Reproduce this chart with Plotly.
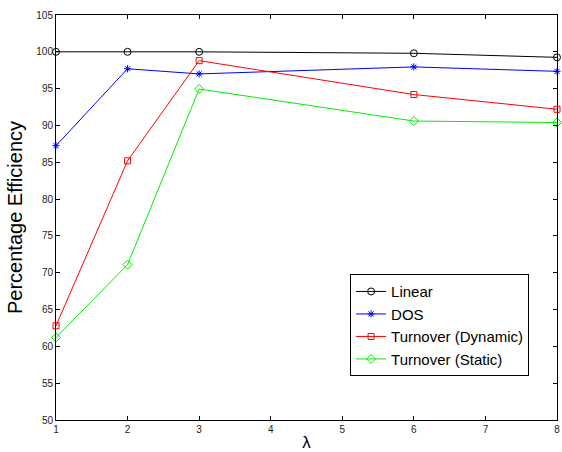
import plotly.graph_objects as go

lam = [1, 2, 3, 6, 8]
linear = [100.0, 100.0, 100.0, 99.8, 99.25]
dos = [87.25, 97.7, 97.0, 97.95, 97.35]
turn_dyn = [62.8, 85.2, 98.8, 94.2, 92.2]
turn_static = [61.2, 71.1, 94.95, 90.6, 90.4]

x_ticks = [1, 2, 3, 4, 5, 6, 7, 8]
y_ticks = [50, 55, 60, 65, 70, 75, 80, 85, 90, 95, 100, 105]

series = [
    ("Linear", linear, "black", "circle-open", 7),
    ("DOS", dos, "blue", "asterisk-open", 6),
    ("Turnover (Dynamic)", turn_dyn, "red", "square-open", 6),
    ("Turnover (Static)", turn_static, "#00ee00", "diamond-open", 7),
]

fig = go.Figure()
for name, vals, col, sym, sz in series:
    fig.add_trace(go.Scatter(
        x=lam, y=vals, name=name, mode="lines+markers",
        line=dict(color=col, width=1),
        marker=dict(symbol=sym, size=sz, color=col, line=dict(color=col, width=1)),
        cliponaxis=False,
    ))

axis_common = dict(
    showgrid=False, zeroline=False, showline=True, linecolor="black", linewidth=1,
    mirror="ticks", ticks="inside", ticklen=4, tickcolor="black",
    tickfont=dict(family="Liberation Sans, Arial", size=10, color="#222"),
    ticklabeloverflow="allow",
)
fig.update_xaxes(range=[1, 8], tickvals=x_ticks,
                 title=dict(text="λ", font=dict(family="Liberation Sans, Arial", size=17, color="black"), standoff=2),
                 **axis_common)
fig.update_yaxes(range=[50, 105], tickvals=y_ticks,
                 title=dict(text="Percentage Efficiency", font=dict(family="Liberation Sans, Arial", size=20, color="black"), standoff=8),
                 **axis_common)

fig.update_layout(
    width=562, height=452,
    margin=dict(l=56, r=5, t=15, b=32, autoexpand=False),
    paper_bgcolor="white", plot_bgcolor="white",
    legend=dict(x=0.587, y=0.36, xanchor="left", yanchor="top",
                bordercolor="black", borderwidth=1, bgcolor="white",
                font=dict(family="Liberation Sans, Arial", size=15, color="black"),
                tracegroupgap=0, itemwidth=30),
    showlegend=True,
)

fig.write_html(
    "out.html",
    config={"displayModeBar": False},
    post_script="document.body.style.margin='0';document.body.style.overflow='hidden';",
)
